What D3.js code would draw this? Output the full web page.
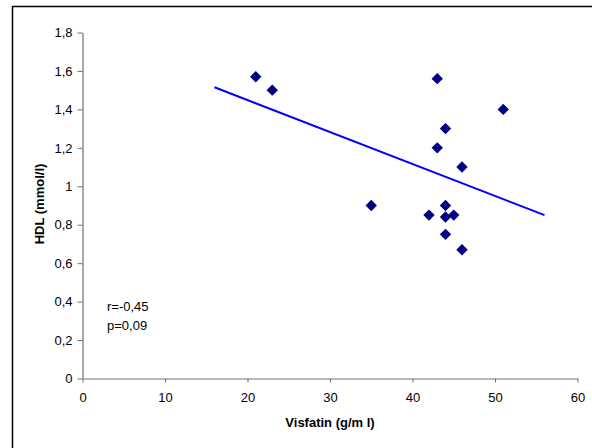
<html>
<meta charset="utf-8">
<style>
body { margin: 0; background: #fff; }
text { font-family: Arial, "Liberation Sans", sans-serif; }
.tick text { font-size: 13px; fill: #000; }
.domain, .tick line { stroke: #707070; }
</style>
<body>
<script src="https://cdn.jsdelivr.net/npm/d3@7"></script>
<script>

/* values */
var visfatin = [21, 23, 43, 51, 44, 43, 46, 35, 44, 42, 44, 45, 44, 46];
var hdl      = [1.57, 1.50, 1.56, 1.40, 1.30, 1.20, 1.10, 0.90, 0.90, 0.85, 0.84, 0.85, 0.75, 0.67];

/* trend line end points */
var trendX = [16, 56];
var trendY = [1.515, 0.85];

var xTicks = [0, 10, 20, 30, 40, 50, 60];
var yTicks = [0, 0.2, 0.4, 0.6, 0.8, 1, 1.2, 1.4, 1.6, 1.8];
var statLines = ['r=-0,45', 'p=0,09'];

var width = 592, height = 448;

var svg = d3.select("body").append("svg")
    .attr("width", width)
    .attr("height", height);

// outer frame, right and bottom edges run off the picture
svg.append("rect")
    .attr("x", 12.5).attr("y", 6.5)
    .attr("width", 620).attr("height", 480)
    .attr("fill", "none")
    .attr("stroke", "#000")
    .attr("stroke-width", 1.5);

var x = d3.scaleLinear().domain([0, 60]).range([82.5, 577.5]);
var y = d3.scaleLinear().domain([0, 1.8]).range([378.5, 32.5]);

var fmt = function(d) { return String(d).replace('.', ','); };

svg.append("g")
    .attr("transform", "translate(0," + y(0) + ")")
    .call(d3.axisBottom(x).tickValues(xTicks).tickSize(4).tickSizeOuter(0).tickPadding(10).tickFormat(fmt));

svg.append("g")
    .attr("transform", "translate(" + x(0) + ",0)")
    .call(d3.axisLeft(y).tickValues(yTicks).tickSize(5).tickSizeOuter(0).tickPadding(5).tickFormat(fmt));

svg.selectAll(".domain").attr("stroke-width", 1.2);

// regression line
svg.append("line")
    .attr("x1", x(trendX[0])).attr("y1", y(trendY[0]))
    .attr("x2", x(trendX[1])).attr("y2", y(trendY[1]))
    .attr("stroke", "#0000ff")
    .attr("stroke-width", 2);

// diamonds
svg.selectAll("path.pt")
    .data(d3.zip(visfatin, hdl))
    .enter().append("path")
    .attr("class", "pt")
    .attr("d", "M0,-5.7L5.7,0L0,5.7L-5.7,0Z")
    .attr("transform", function(d) { return "translate(" + x(d[0]) + "," + y(d[1]) + ")"; })
    .attr("fill", "#000080");

// stats
svg.selectAll("text.stat")
    .data(statLines)
    .enter().append("text")
    .attr("class", "stat")
    .attr("x", 107)
    .attr("y", function(d, i) { return 311 + i * 19; })
    .attr("font-size", 13)
    .text(function(d) { return d; });

// axis titles
svg.append("text")
    .attr("x", 330).attr("y", 427)
    .attr("text-anchor", "middle")
    .attr("font-size", 13).attr("font-weight", "bold")
    .text("Visfatin (g/m l)");

svg.append("text")
    .attr("transform", "translate(43.5,204) rotate(-90)")
    .attr("text-anchor", "middle")
    .attr("font-size", 13).attr("font-weight", "bold")
    .text("HDL (mmol/l)");

</script>
</body>
</html>
